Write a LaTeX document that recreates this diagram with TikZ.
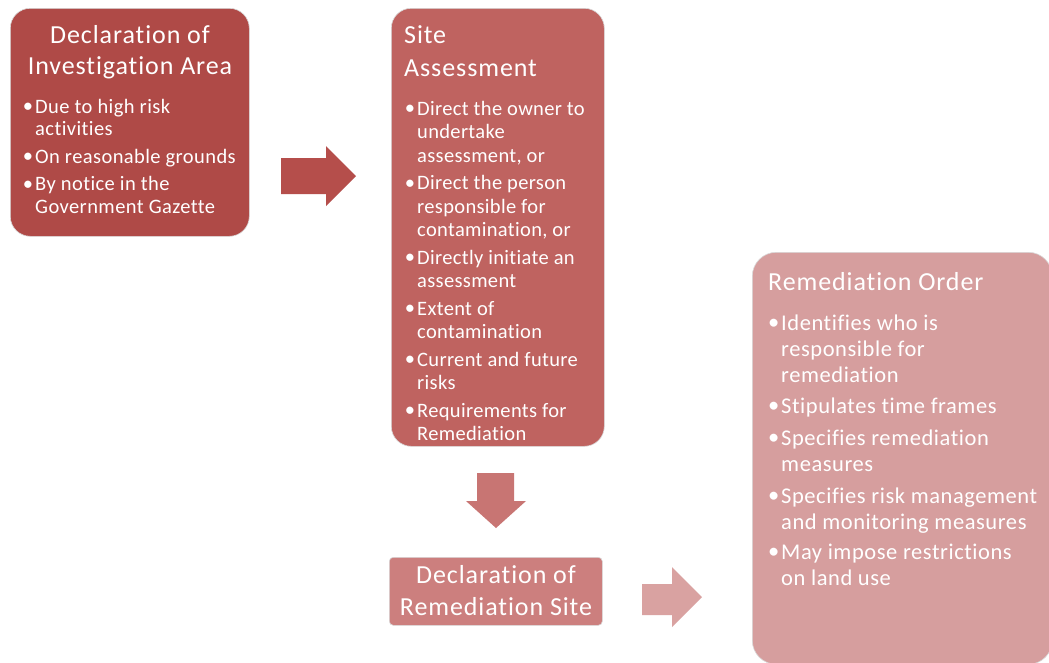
\documentclass[tikz,border=0pt]{standalone}
\usepackage{fontspec}
\setmainfont{Carlito}[Ligatures=NoCommon]
\definecolor{cA}{HTML}{AF4A47}
\definecolor{aA}{HTML}{B54E4B}
\definecolor{cB}{HTML}{BF6360}
\definecolor{aB}{HTML}{C87573}
\definecolor{cC}{HTML}{CC7F7E}
\definecolor{aC}{HTML}{D9A2A1}
\definecolor{cD}{HTML}{D69E9E}
\newcommand\bul{\llap{\raisebox{0.5pt}{•}\hspace{2pt}}}
% font set-ups: title text and bullet text
\newcommand\titlesize[1]{\fontsize{26}{#1}\selectfont\addfontfeatures{LetterSpace=3.5}}
\newcommand\listsize[3]{\fontsize{#1}{#2}\selectfont\addfontfeatures{LetterSpace=#3}}
\begin{document}
\begin{tikzpicture}[x=1pt,y=-1pt,
  box/.style={draw=white!85!black, line width=0.6pt, anchor=north west, inner sep=0pt},
  txt/.style={inner sep=0pt, text=white, align=left}]
\useasboundingbox (0,0) rectangle (1049,662);
\fill[white] (0,0) rectangle (1049,662);

% boxes
\node[box, fill=cA, rounded corners=20, minimum width=239, minimum height=228] (decl) at (10,8) {};
\node[box, fill=cB, rounded corners=20, minimum width=213, minimum height=438] (assess) at (391,8) {};
\node[box, fill=cC, rounded corners=4, minimum width=213, minimum height=68] (site) at (389,557) {};
\node[box, fill=cD, rounded corners=24, minimum width=300, minimum height=412] (order) at (752,252) {};

% block arrows
\fill[aA] (281,158) -- (326,158) -- (326,146) -- (356,176) -- (326,206) -- (326,194) -- (281,194) -- cycle;
\fill[aB] (477,473) -- (514,473) -- (514,501) -- (526,501) -- (496,528) -- (466,501) -- (477,501) -- cycle;
\fill[aC] (642,584) -- (672,584) -- (672,567) -- (702,597) -- (672,627) -- (672,615) -- (642,615) -- cycle;

% Declaration of Investigation Area
\node[txt, anchor=base] (declT) at (130,43) {\titlesize{31}%
  \begin{tabular}[t]{@{}c@{}}Declaration of\\Investigation Area\end{tabular}};
\node[txt, anchor=base west] (declL) at (35,113) {\listsize{20.5}{22.5}{2}%
  \begin{tabular}[t]{@{}l@{}}
  \bul Due to high risk\\ activities\\[5pt]
  \bul On reasonable grounds\\[5pt]
  \bul By notice in the\\ Government Gazette
  \end{tabular}};

% Site Assessment
\node[txt, anchor=base west] (assessT) at (404,43) {\titlesize{33.5}%
  \begin{tabular}[t]{@{}l@{}}Site\\Assessment\end{tabular}};
\node[txt, anchor=base west] (assessL) at (417,115) {\listsize{20.5}{23.5}{1.6}%
  \begin{tabular}[t]{@{}l@{}}
  \bul Direct the owner to\\ undertake\\ assessment, or\\[4pt]
  \bul Direct the person\\ responsible for\\ contamination, or\\[4pt]
  \bul Directly initiate an\\ assessment\\[4pt]
  \bul Extent of\\ contamination\\[4pt]
  \bul Current and future\\ risks\\[4pt]
  \bul Requirements for\\ Remediation
  \end{tabular}};

% Declaration of Remediation Site
\node[txt, anchor=base] (siteT) at (496,583) {\titlesize{32}%
  \begin{tabular}[t]{@{}c@{}}Declaration of\\Remediation Site\end{tabular}};

% Remediation Order
\node[txt, anchor=base west] (orderT) at (768,290) {\titlesize{30}Remediation Order};
\node[txt, anchor=base west] (orderL) at (781,330) {\listsize{22.5}{26}{2.5}%
  \begin{tabular}[t]{@{}l@{}}
  \bul Identifies who is\\ responsible for\\ remediation\\[5pt]
  \bul Stipulates time frames\\[6pt]
  \bul Specifies remediation\\ measures\\[6pt]
  \bul Specifies risk management\\ and monitoring measures\\[4pt]
  \bul May impose restrictions\\ on land use
  \end{tabular}};
\end{tikzpicture}
\end{document}
